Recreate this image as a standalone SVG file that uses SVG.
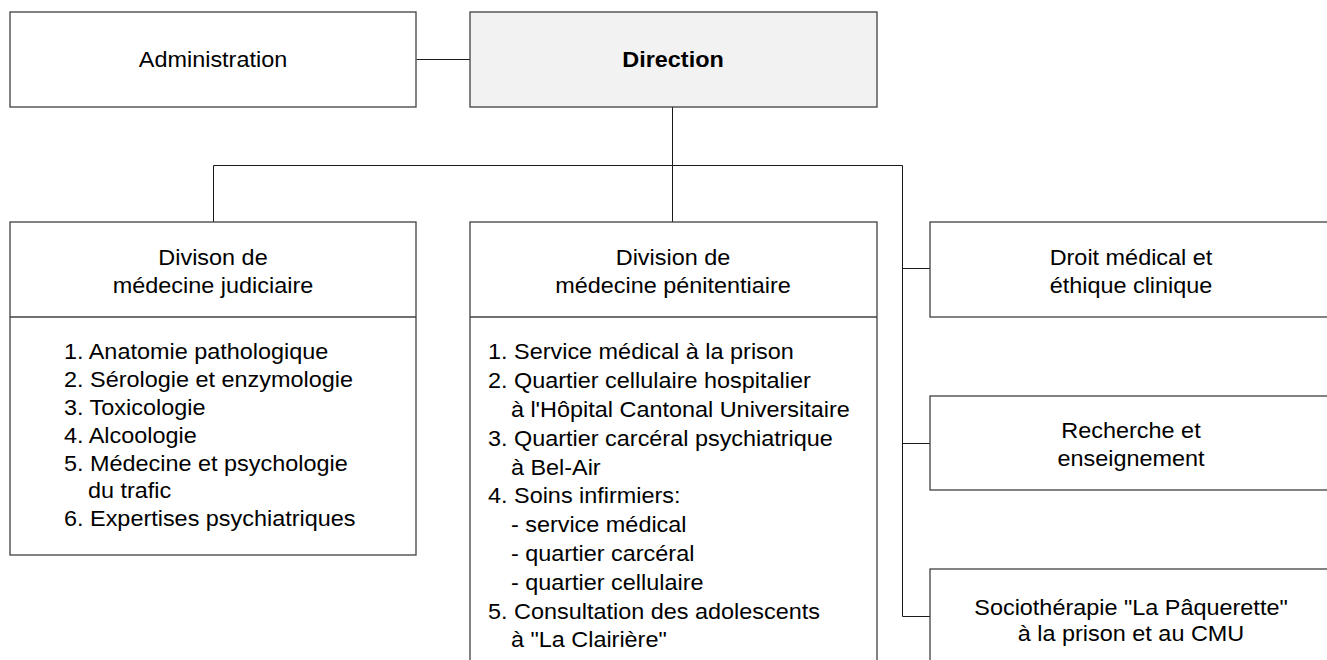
<svg xmlns="http://www.w3.org/2000/svg" width="1327" height="660" viewBox="0 0 1327 660">
<style>
.box{fill:#ffffff;stroke:#404040;stroke-width:1.3}
.dir{fill:#f2f2f2;stroke:#404040;stroke-width:1.3}
.sep{stroke:#404040;stroke-width:1.3}
.con{fill:none;stroke:#1a1a1a;stroke-width:1}
text{font-family:"Liberation Sans",Arial,sans-serif;font-size:21.5px;fill:#000}
.c{text-anchor:middle}
.b{font-weight:bold}
</style>
<rect x="0" y="0" width="1327" height="660" fill="#ffffff"/>
<g id="connectors">
<path class="con" d="M416.5 59.5H470"/>
<path class="con" d="M672.5 107V165.5"/>
<path class="con" d="M213.5 222V165.5H902.5V616.5"/>
<path class="con" d="M672.5 165.5V222"/>
<path class="con" d="M902.5 268.5H930"/>
<path class="con" d="M902.5 443.5H930"/>
<path class="con" d="M902.5 616.5H930"/>
</g>
<g id="administration">
<rect class="box" x="10" y="12" width="406" height="95"/>
<g transform="translate(213,67) scale(1.09,1)"><text class="c" x="0" y="0">Administration</text></g>
</g>
<g id="direction">
<rect class="dir" x="470" y="12" width="407" height="95"/>
<g transform="translate(673,67) scale(1.09,1)"><text class="c b" x="0" y="0">Direction</text></g>
</g>
<g id="medecine-judiciaire">
<rect class="box" x="10" y="222" width="406" height="333"/>
<line class="sep" x1="10" y1="317" x2="416" y2="317"/>
<g transform="translate(213,0) scale(1.09,1)">
<text class="c" x="0" y="265">Divison de</text>
<text class="c" x="0" y="293">médecine judiciaire</text>
</g>
<g transform="translate(64,0) scale(1.09,1)">
<text x="0" y="359.5">1. Anatomie pathologique</text>
<text x="0" y="387.3">2. Sérologie et enzymologie</text>
<text x="0" y="415.1">3. Toxicologie</text>
<text x="0" y="442.9">4. Alcoologie</text>
<text x="0" y="470.7">5. Médecine et psychologie</text>
<text x="22" y="498.5">du trafic</text>
<text x="0" y="526.3">6. Expertises psychiatriques</text>
</g>
</g>
<g id="medecine-penitentiaire">
<rect class="box" x="470" y="222" width="407" height="470"/>
<line class="sep" x1="470" y1="317" x2="877" y2="317"/>
<g transform="translate(673,0) scale(1.09,1)">
<text class="c" x="0" y="265">Division de</text>
<text class="c" x="0" y="293">médecine pénitentiaire</text>
</g>
<g transform="translate(488,0) scale(1.09,1)">
<text x="0" y="359.5">1. Service médical à la prison</text>
<text x="0" y="388.3">2. Quartier cellulaire hospitalier</text>
<text x="21" y="417.1">à l'Hôpital Cantonal Universitaire</text>
<text x="0" y="445.9">3. Quartier carcéral psychiatrique</text>
<text x="21" y="474.7">à Bel-Air</text>
<text x="0" y="503.5">4. Soins infirmiers:</text>
<text x="21" y="532.3">- service médical</text>
<text x="21" y="561.1">- quartier carcéral</text>
<text x="21" y="589.9">- quartier cellulaire</text>
<text x="0" y="618.7">5. Consultation des adolescents</text>
<text x="21" y="647.5">à "La Clairière"</text>
</g>
</g>
<g id="droit-medical">
<rect class="box" x="930" y="222" width="403" height="95"/>
<g transform="translate(1131,0) scale(1.09,1)">
<text class="c" x="0" y="265">Droit médical et</text>
<text class="c" x="0" y="293">éthique clinique</text>
</g>
</g>
<g id="recherche">
<rect class="box" x="930" y="396" width="403" height="94"/>
<g transform="translate(1131,0) scale(1.09,1)">
<text class="c" x="0" y="438">Recherche et</text>
<text class="c" x="0" y="466">enseignement</text>
</g>
</g>
<g id="sociotherapie">
<rect class="box" x="930" y="569" width="403" height="120"/>
<g transform="translate(1131,0) scale(1.09,1)">
<text class="c" x="0" y="615">Sociothérapie "La Pâquerette"</text>
<text class="c" x="0" y="641">à la prison et au CMU</text>
</g>
</g>
</svg>
